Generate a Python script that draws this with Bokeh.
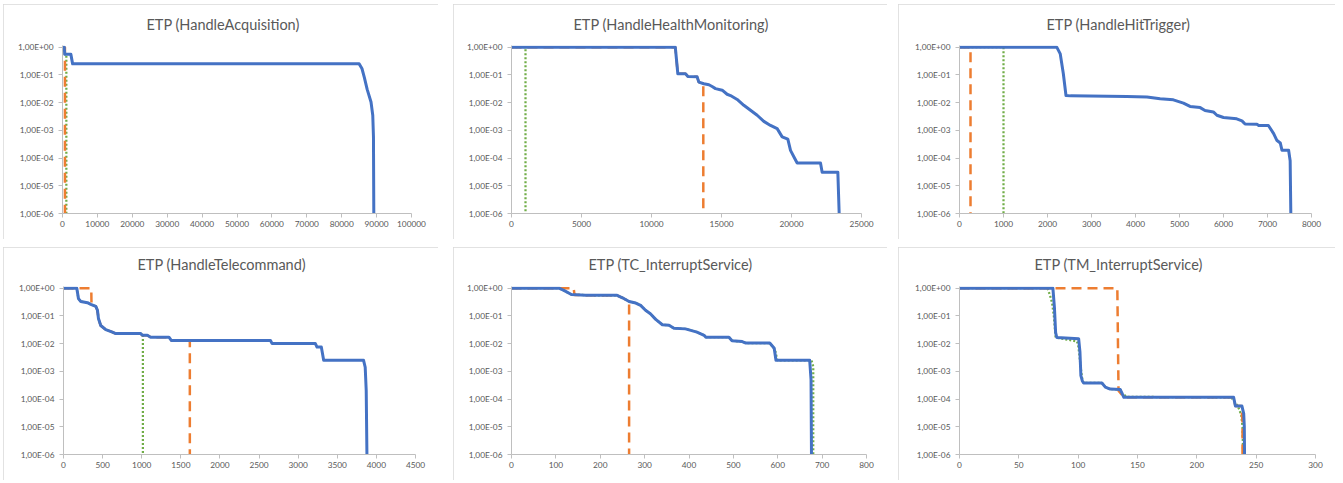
from bokeh.plotting import figure
from bokeh.models import Range1d, FixedTicker, CustomJSTickFormatter, NumeralTickFormatter, Spacer, Title
from bokeh.layouts import column, row
from bokeh.embed import file_html
from bokeh.resources import INLINE

# ---------------- data ----------------
titles = ["ETP (HandleAcquisition)", "ETP (HandleHealthMonitoring)", "ETP (HandleHitTrigger)",
          "ETP (HandleTelecommand)", "ETP (TC_InterruptService)", "ETP (TM_InterruptService)"]

y_ticks = [1e-6, 1e-5, 1e-4, 1e-3, 1e-2, 1e-1, 1]

# HandleAcquisition
acq_ticks = [0, 10000, 20000, 30000, 40000, 50000, 60000, 70000, 80000, 90000, 100000]
acq_blue_x = [0, 500, 650, 2400, 2900, 85000, 85800, 86500, 87300, 88400, 88900, 89100, 89200]
acq_blue_y = [1, 1, 0.55, 0.55, 0.25, 0.25, 0.17, 0.08, 0.03, 0.0105, 0.0035, 6e-4, 1e-6]
acq_orange_x = [0, 700, 700]
acq_orange_y = [1, 1, 1e-6]
acq_green_x = [0, 500, 650, 1100, 1100]
acq_green_y = [1, 1, 0.55, 0.55, 1e-6]

# HandleHealthMonitoring
hm_ticks = [0, 5000, 10000, 15000, 20000, 25000]
hm_blue_x = [0, 11700, 11880, 12430, 12600, 13260, 13380, 13740, 14100, 14330, 14570, 15050, 15400,
             15643, 16119, 16595, 17071, 17548, 18024, 18500, 18976, 19333, 19738, 19929, 20214,
             20405, 22071, 22190, 23310, 23405]
hm_blue_y = [1, 1, 0.11, 0.11, 0.088, 0.085, 0.055, 0.048, 0.044, 0.038, 0.032, 0.028, 0.02,
             0.018, 0.013, 0.008, 0.0053, 0.0035, 0.0021, 0.0015, 0.00115, 5.8e-4, 4.8e-4, 1.9e-4, 1e-4,
             6.6e-5, 6.6e-5, 3.1e-5, 3.1e-5, 1e-6]
hm_orange_x = [0, 11700, 11880, 12430, 12600, 13260, 13380, 13700, 13700]
hm_orange_y = [1, 1, 0.11, 0.11, 0.088, 0.085, 0.055, 0.049, 1e-6]
hm_green_x = [0, 1000, 1000]
hm_green_y = [1, 1, 1e-6]

# HandleHitTrigger
ht_ticks = [0, 1000, 2000, 3000, 4000, 5000, 6000, 7000, 8000]
ht_blue_x = [0, 2210, 2290, 2360, 2420, 2520, 3800, 4260, 4560, 4860, 5090, 5240, 5470, 5580, 5770,
             5850, 6000, 6300, 6420, 6490, 6760, 6800, 7020, 7140, 7210, 7290, 7330, 7480, 7515, 7530]
ht_blue_y = [1, 1, 0.57, 0.11, 0.018, 0.0175, 0.0167, 0.0158, 0.0138, 0.0126, 0.0096, 0.0073, 0.0066,
             0.0052, 0.0046, 0.0035, 0.0029, 0.0026, 0.0022, 0.0017, 0.00165, 0.0015, 0.0015, 7.6e-4,
             4.4e-4, 3.5e-4, 1.9e-4, 1.9e-4, 8e-5, 1e-6]
ht_orange_x = [0, 250, 250]
ht_orange_y = [1, 1, 1e-6]
ht_green_x = [0, 1000, 1000]
ht_green_y = [1, 1, 1e-6]

# HandleTelecommand
tc_ticks = [0, 500, 1000, 1500, 2000, 2500, 3000, 3500, 4000, 4500]
tc_blue_x = [0, 170, 191, 221, 306, 349, 413, 434, 447, 476, 540, 625, 668, 987, 1008, 1072, 1114,
             1348, 1378, 2646, 2667, 3220, 3241, 3296, 3326, 3836, 3857, 3870, 3879]
tc_blue_y = [1, 1, 0.42, 0.33, 0.3, 0.26, 0.22, 0.16, 0.08, 0.045, 0.032, 0.026, 0.023, 0.023, 0.02,
             0.02, 0.017, 0.017, 0.013, 0.013, 0.01, 0.01, 0.0075, 0.0075, 0.0025, 0.0025, 0.0014,
             2e-4, 1e-6]
tc_orange_x = [0, 355, 358, 413, 434, 447, 476, 540, 625, 668, 987, 1008, 1072, 1114, 1348, 1378,
               1615, 1615]
tc_orange_y = [1, 1, 0.25, 0.22, 0.16, 0.08, 0.045, 0.032, 0.026, 0.023, 0.023, 0.02, 0.02, 0.017,
               0.017, 0.013, 0.013, 1e-6]
tc_green_x = [0, 170, 191, 221, 306, 349, 413, 434, 447, 476, 540, 625, 668, 987, 1015, 1015]
tc_green_y = [1, 1, 0.42, 0.33, 0.3, 0.26, 0.22, 0.16, 0.08, 0.045, 0.032, 0.026, 0.023, 0.023, 0.02,
              1e-6]

# TC_InterruptService
tcis_ticks = [0, 100, 200, 300, 400, 500, 600, 700, 800]
tcis_blue_x = [0, 107, 118, 135, 167, 200, 238, 250, 265, 280, 291, 302, 313, 325, 340, 355, 366, 392,
               418, 434, 438, 490, 497, 520, 528, 582, 592, 596, 672, 675, 676]
tcis_blue_y = [1, 1, 0.83, 0.59, 0.56, 0.55, 0.55, 0.45, 0.33, 0.29, 0.24, 0.16, 0.12, 0.075, 0.048,
               0.046, 0.036, 0.034, 0.026, 0.02, 0.017, 0.017, 0.0126, 0.0118, 0.0105, 0.0105, 0.0068,
               0.0025, 0.0025, 5e-4, 1e-6]
tcis_orange_x = [0, 140, 142, 167, 200, 238, 250, 265, 265]
tcis_orange_y = [1, 1, 0.57, 0.56, 0.55, 0.55, 0.45, 0.33, 1e-6]
tcis_green_x = [0, 107, 118, 135, 167, 200, 238, 250, 265, 280, 291, 302, 313, 325, 340, 355, 366, 392,
                418, 434, 438, 490, 497, 520, 528, 582, 594, 599, 676, 680, 680]
tcis_green_y = [1, 1, 0.83, 0.59, 0.56, 0.55, 0.55, 0.45, 0.33, 0.29, 0.24, 0.16, 0.12, 0.075, 0.048,
                0.046, 0.036, 0.034, 0.026, 0.02, 0.017, 0.017, 0.0126, 0.0118, 0.0105, 0.0105, 0.006,
                0.0025, 0.0025, 0.0015, 1e-6]

# TM_InterruptService
tmis_ticks = [0, 50, 100, 150, 200, 250, 300]
tmis_blue_x = [0, 78.7, 80, 81, 82, 100.4, 101.5, 102.3, 103.5, 104.6, 120, 122.9, 127, 135.5, 137,
               138.5, 231, 232.5, 238, 239.5, 240, 240.2]
tmis_blue_y = [1, 1, 0.2, 0.025, 0.0166, 0.015, 0.005, 7e-4, 4.5e-4, 3.8e-4, 3.8e-4, 2.7e-4, 2.3e-4,
               2.2e-4, 1.6e-4, 1.15e-4, 1.15e-4, 5.6e-5, 5.6e-5, 3e-5, 1e-5, 1e-6]
tmis_orange_x = [0, 133, 134, 137, 138.5, 231, 232.5, 237.5, 238.5, 238.5]
tmis_orange_y = [1, 1, 2e-4, 1.4e-4, 1.15e-4, 1.15e-4, 5.6e-5, 5.6e-5, 1.5e-5, 1e-6]
tmis_green_x = [0, 74, 76, 78, 79.5, 81, 99, 100, 101, 102, 103.5, 104.6, 120, 122.9, 127, 135.5, 137,
                141, 229, 231, 234, 236, 237.5, 238.5, 239]
tmis_green_y = [1, 1, 0.6, 0.3, 0.1, 0.0166, 0.012, 0.009, 0.004, 0.0015, 5e-4, 3.8e-4, 3.8e-4, 2.7e-4,
                2.3e-4, 2.2e-4, 1.6e-4, 1.2e-4, 1.15e-4, 9e-5, 6e-5, 4e-5, 2.5e-5, 1e-5, 1e-6]

# ---------------- styling ----------------
FONT = "Lato"
TEXT_COLOR = "#595959"
AXIS_COLOR = "#BFBFBF"
BLUE = "#4472C4"
ORANGE = "#ED7D31"
GREEN = "#70AD47"


def make_panel(title, ticks, series, w, h, left, right, top, bottom, title_offset, gap):
    (bx, by), (ox, oy), (gx, gy) = series
    p = figure(width=w, height=h, x_range=Range1d(ticks[0], ticks[-1]),
               y_range=Range1d(1e-6, 10 ** 0.06), y_axis_type="log",
               output_backend="svg", toolbar_location=None,
               min_border_left=left, min_border_right=right,
               min_border_top=top, min_border_bottom=bottom,
               background_fill_color="white", border_fill_color="white",
               styles={"outline": "1px solid #D9D9D9", "outline-offset": "-1px"})
    p.outline_line_color = None
    p.grid.visible = False

    p.title.text = title
    p.title.align = "left"
    p.title.offset = title_offset
    p.title.text_font = FONT
    p.title.text_font_size = "14.5px"
    p.title.text_font_style = "normal"
    p.title.text_color = TEXT_COLOR
    p.title.standoff = 12
    # empty gap between the title and the plot area
    p.add_layout(Title(text=" ", text_font_size="1px", standoff=gap), "above")

    p.xaxis.ticker = FixedTicker(ticks=ticks)
    p.xaxis.formatter = NumeralTickFormatter(format="0")
    p.yaxis.ticker = FixedTicker(ticks=y_ticks)
    p.yaxis.formatter = CustomJSTickFormatter(code="""
        const e = Math.round(Math.log10(tick));
        const a = Math.abs(e);
        return '1,00E' + (e < 0 ? '-' : '+') + (a < 10 ? '0' : '') + a;
    """)
    for ax in (p.xaxis, p.yaxis):
        ax.axis_line_color = AXIS_COLOR
        ax.axis_line_width = 1
        ax.major_tick_line_color = AXIS_COLOR
        ax.major_tick_in = 0
        ax.major_tick_out = 4
        ax.minor_tick_line_color = None
        ax.major_label_text_font = FONT
        ax.major_label_text_font_size = "8.3px"
        ax.major_label_text_color = TEXT_COLOR
    p.xaxis.major_label_standoff = 3
    p.yaxis.major_label_standoff = 5

    p.line(gx, gy, line_color=GREEN, line_width=2.25, line_dash="2 2")
    p.line(ox, oy, line_color=ORANGE, line_width=2.5, line_dash="10 6")
    p.line(bx, by, line_color=BLUE, line_width=3, line_join="round")
    return p


p1 = make_panel(titles[0], acq_ticks, [(acq_blue_x, acq_blue_y), (acq_orange_x, acq_orange_y),
                                       (acq_green_x, acq_green_y)], 435, 235, 59, 27, 41, 26, 84, 4)
p2 = make_panel(titles[1], hm_ticks, [(hm_blue_x, hm_blue_y), (hm_orange_x, hm_orange_y),
                                      (hm_green_x, hm_green_y)], 434, 235, 58, 26, 41, 26, 62, 4)
p3 = make_panel(titles[2], ht_ticks, [(ht_blue_x, ht_blue_y), (ht_orange_x, ht_orange_y),
                                      (ht_green_x, ht_green_y)], 437, 235, 61, 24, 41, 26, 87, 4)
p4 = make_panel(titles[3], tc_ticks, [(tc_blue_x, tc_blue_y), (tc_orange_x, tc_orange_y),
                                      (tc_green_x, tc_green_y)], 435, 233, 60, 23, 39, 26, 74, 5)
p5 = make_panel(titles[4], tcis_ticks, [(tcis_blue_x, tcis_blue_y), (tcis_orange_x, tcis_orange_y),
                                        (tcis_green_x, tcis_green_y)], 434, 233, 58, 21, 39, 26, 77, 5)
p6 = make_panel(titles[5], tmis_ticks, [(tmis_blue_x, tmis_blue_y), (tmis_orange_x, tmis_orange_y),
                                        (tmis_green_x, tmis_green_y)], 437, 233, 61, 20, 39, 26, 75, 5)

layout = column(
    Spacer(width=10, height=4),
    row(Spacer(width=3, height=10), p1, Spacer(width=15, height=10), p2, Spacer(width=11, height=10), p3),
    Spacer(width=10, height=8),
    row(Spacer(width=3, height=10), p4, Spacer(width=15, height=10), p5, Spacer(width=11, height=10), p6),
)

open("out.html", "w").write(file_html(layout, INLINE))
